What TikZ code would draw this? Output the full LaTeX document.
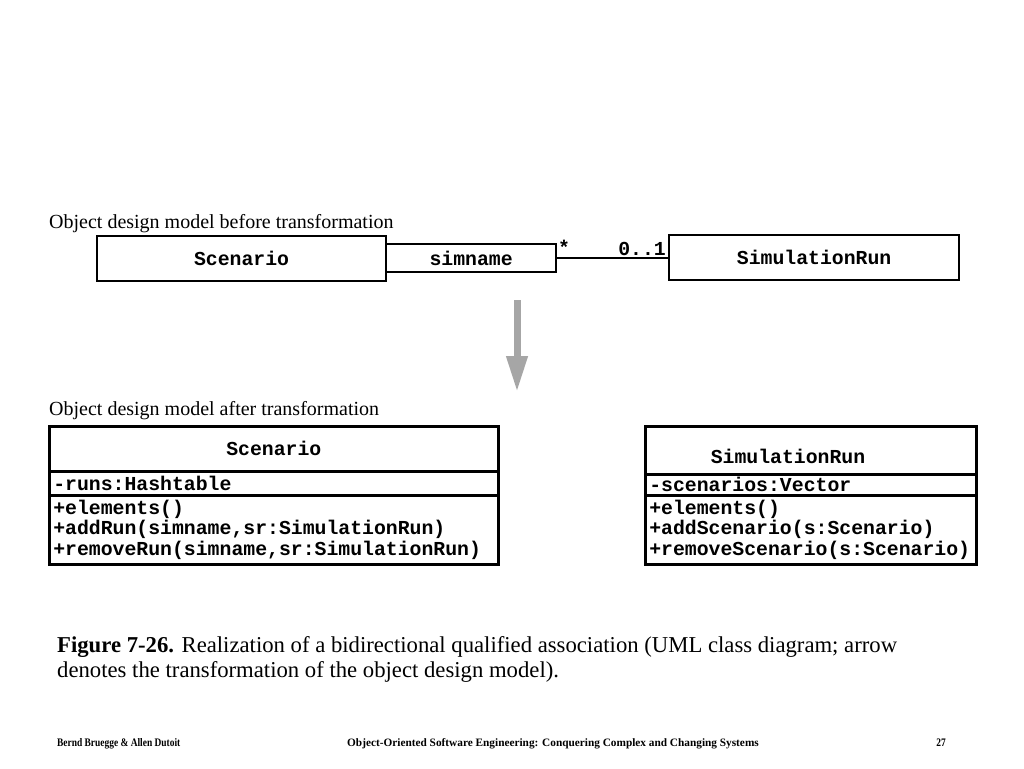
\documentclass[tikz,border=0pt]{standalone}
\usepackage{fontspec}
\setmainfont{Liberation Serif}
\setmonofont{Liberation Mono}
\newfontfamily\footfont[FakeStretch=0.82]{Liberation Serif}
\usetikzlibrary{arrows.meta}
\begin{document}
\begin{tikzpicture}[x=1pt,y=-1pt,
  title/.style={font=\fontsize{20}{22}\selectfont, anchor=base west, inner sep=0pt},
  topbox/.style={draw, line width=2.2pt, anchor=north west, inner sep=0pt,
    font=\fontsize{19.8}{20.5}\selectfont\ttfamily\bfseries},
  comp/.style={draw, line width=2.6pt, anchor=north west, inner sep=0pt,
    font=\fontsize{19.8}{20.5}\selectfont\ttfamily\bfseries},
  leftcomp/.style={comp, align=left, inner xsep=4pt},
  mult/.style={font=\fontsize{19.8}{20.5}\selectfont\ttfamily\bfseries, inner sep=0pt},
  footer/.style={font=\fontsize{11.5}{12}\selectfont\footfont\bfseries, inner sep=0pt}]
\useasboundingbox[fill=white] (0,0) rectangle (1024,768);

% before transformation
\node[title] (t1) at (49,228) {Object design model before transformation};
\node[topbox, minimum width=289pt, minimum height=45pt] (sc) at (96,235) {Scenario};
\node[topbox, minimum width=170pt, minimum height=28pt] (qual) at (385,243) {simname};
\node[topbox, minimum width=290pt, minimum height=45pt] (sr) at (668,234) {SimulationRun};
\draw[line width=2.2pt] (qual.east) -- (qual.east -| sr.west);
\node[mult, anchor=north west] (m1) at (558,240) {*};
\node[mult, anchor=south east] (m2) at (666,256) {0..1};

% transformation arrow
\coordinate (a1) at (517,300);
\coordinate (a2) at (517,392);
\draw[line width=7pt, gray!70, -{Triangle[width=20pt,length=36pt]}] (a1) -- (a2);

% after transformation
\node[title] (t2) at (49,415) {Object design model after transformation};

\node[comp, minimum width=449pt, minimum height=45pt] (c1n) at (48,425) {Scenario};
\node[leftcomp, text width=441pt, minimum height=24pt] (c1a) at (48,470) {-runs:Hashtable};
\node[leftcomp, text width=441pt, minimum height=69pt] (c1o) at (48,494)
  {+elements()\\+addRun(simname,sr:SimulationRun)\\+removeRun(simname,sr:SimulationRun)};

\node[comp, minimum width=331pt, minimum height=48pt] (c2n) at (644,425) {};
\node[mult] (c2t) at (788,456) {SimulationRun};
\node[leftcomp, text width=323pt, minimum height=21pt] (c2a) at (644,473) {-scenarios:Vector};
\node[leftcomp, text width=323pt, minimum height=69pt] (c2o) at (644,494)
  {+elements()\\+addScenario(s:Scenario)\\+removeScenario(s:Scenario)};

% caption
\node[anchor=base west, inner sep=0pt, align=left, font=\fontsize{22.7}{25}\selectfont] (cap) at (57,677)
  {\textbf{Figure 7-26.} Realization of a bidirectional qualified association (UML class diagram; arrow\\
   denotes the transformation of the object design model).};

% footer
\node[footer, anchor=base west] (f1) at (57,746) {Bernd Bruegge \& Allen Dutoit};
\node[font=\fontsize{11.3}{12}\selectfont\bfseries, inner sep=0pt, anchor=base west] (f2) at (347,746) {Object-Oriented Software Engineering: Conquering Complex and Changing Systems};
\node[footer, anchor=base east] (f3) at (946,746) {27};
\end{tikzpicture}
\end{document}
